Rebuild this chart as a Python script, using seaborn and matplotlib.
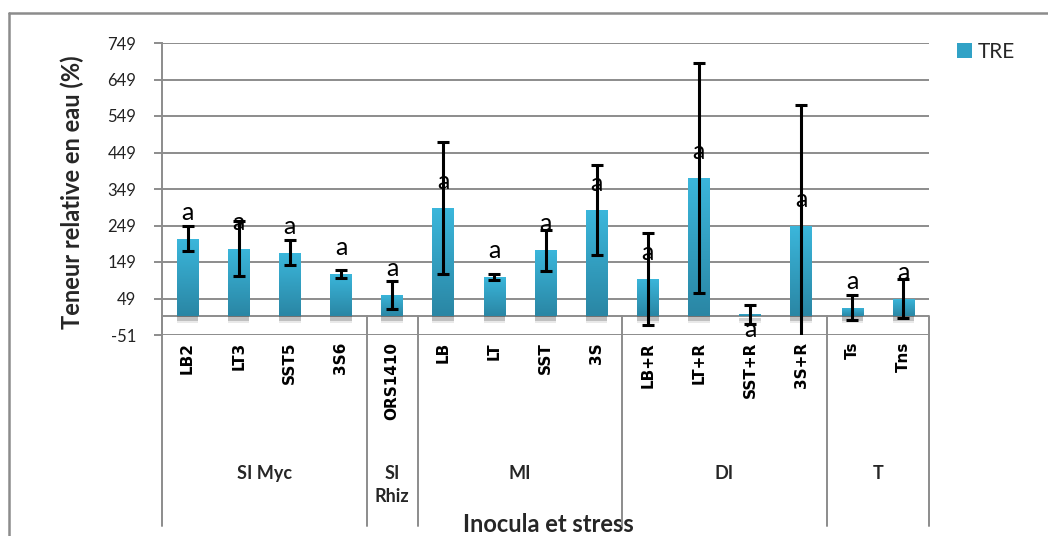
import numpy as np
import matplotlib
matplotlib.use("Agg")
import matplotlib.pyplot as plt
import matplotlib.patheffects as pe
from matplotlib.colors import LinearSegmentedColormap
from matplotlib.lines import Line2D
from matplotlib.patches import Patch
import seaborn as sns

# Relative water content per inoculum / stress treatment
categories = ["LB2", "LT3", "SST5", "3S6", "ORS1410", "LB", "LT", "SST", "3S",
              "LB+R", "LT+R", "SST+R", "3S+R", "Ts", "Tns"]
groups = ["SI Myc", "SI\nRhiz", "MI", "DI", "T"]
group_sizes = [4, 1, 4, 4, 2]
tre = [213, 185, 175, 117, 59, 298, 109, 181, 292, 103, 379, 6, 248, 24, 49]
tre_err = [34, 75, 34, 11, 38, 181, 8, 57, 123, 126, 315, 26, 332, 35, 54]
letters = ["a"] * len(categories)
yticks = [-51, 49, 149, 249, 349, 449, 549, 649, 749]

sns.set_theme(style="white")
plt.rcParams["font.family"] = ["Lato", "DejaVu Sans"]

W, H = 1048, 536
fig = plt.figure(figsize=(W / 100, H / 100), dpi=100)
ax = fig.add_axes([162 / W, 1 - 335 / H, (929 - 162) / W, (335 - 43) / H])

GRID = "#8C8C8C"
bar_top, bar_bottom = "#3BB7DC", "#2A86A4"

sns.barplot(x=categories, y=tre, color=bar_top, saturation=1, width=0.42,
            errorbar=None, ax=ax, zorder=3)

# vertical gradient fill and soft drop shadow for the bars
cmap = LinearSegmentedColormap.from_list("tre_grad", [bar_bottom, bar_top])
grad = np.linspace(0, 1, 256).reshape(-1, 1)
for p in list(ax.patches):
    p.set_edgecolor("none")
    p.set_path_effects([pe.SimplePatchShadow(offset=(0, -3), shadow_rgbFace="#303030", alpha=0.22),
                        pe.SimplePatchShadow(offset=(0, -5), shadow_rgbFace="#303030", alpha=0.1),
                        pe.Normal()])
    x0, y0, w, h = p.get_x(), p.get_y(), p.get_width(), p.get_height()
    im = ax.imshow(grad, extent=[x0, x0 + w, y0, y0 + h], origin="lower",
                   aspect="auto", cmap=cmap, zorder=3.5)
    im.set_clip_path(p)

xs = np.arange(len(categories))
ax.errorbar(xs, tre, yerr=tre_err, fmt="none", ecolor="black", elinewidth=2.2,
            capsize=4.4, capthick=2.2, zorder=5)

# significance letters above each bar (below the axis for near-zero bars)
for x, v, s in zip(xs, tre, letters):
    dy = 19 if v > 10 else -11
    ax.annotate(s, (x, v), xytext=(0, dy), textcoords="offset points",
                ha="center", va="center", fontsize=18, color="black", zorder=6)

ax.set_xlim(-0.5, len(categories) - 0.5)
ax.set_ylim(-51, 749)
ax.set_yticks(yticks)
ax.set_yticklabels([str(t) for t in yticks], fontsize=12, color="#222222")
ax.yaxis.grid(True, color=GRID, lw=1.4)
ax.set_axisbelow(True)
ax.tick_params(axis="y", which="major", left=True, length=5.5, width=1.4, color=GRID, pad=13)

ax.set_xticks(xs)
ax.set_xticklabels(categories, rotation=90, fontsize=11, fontweight="bold",
                   family="DejaVu Sans", color="black")
ax.tick_params(axis="x", length=0, pad=5)

for side in ["top", "right", "bottom"]:
    ax.spines[side].set_visible(False)
ax.spines["left"].set_color(GRID)
ax.spines["left"].set_linewidth(1.4)

# category axis at zero
ax.axhline(0, color=GRID, lw=1.4, zorder=2)

# group separators running down through the label area
trans = ax.get_xaxis_transform()
y_zero = (0 - (-51)) / 800
y_low = (335 - 526) / (335 - 43)
bounds = np.concatenate([[0], np.cumsum(group_sizes)]) - 0.5
for b in bounds:
    ax.plot([b, b], [y_zero, y_low], transform=trans, color=GRID, lw=1.4,
            clip_on=False, zorder=2)

# group names
y_grp = (335 - 465) / (335 - 43)
for g, lo, hi in zip(groups, bounds[:-1], bounds[1:]):
    ax.text((lo + hi) / 2, y_grp, g, transform=trans, ha="center", va="top",
            fontsize=13, fontweight="bold", linespacing=1.45)

ax.set_ylabel("Teneur relative en eau (%)", fontsize=17, fontweight="bold",
              va="center")
ax.yaxis.set_label_coords((72 - 162) / 767, (335 - 192) / 292)
ax.set_xlabel("Inocula et stress", fontsize=17, fontweight="bold", va="center")
ax.xaxis.set_label_coords((548 - 162) / 767, (335 - 525) / 292)

leg = ax.legend(handles=[Patch(facecolor="#31A2C6", edgecolor="none", label="TRE")],
                loc="upper left", bbox_to_anchor=(957 / W, 1 - 42 / H),
                bbox_transform=fig.transFigure, frameon=False, fontsize=15,
                handlelength=0.72, handleheight=0.72, handletextpad=0.3,
                borderpad=0, borderaxespad=0)

# chart area frame (top and left edges)
fig.add_artist(Line2D([9 / W, 1.0], [1 - 13 / H, 1 - 13 / H], transform=fig.transFigure,
                      color=GRID, lw=1.8))
fig.add_artist(Line2D([9 / W, 9 / W], [0, 1 - 13 / H], transform=fig.transFigure,
                      color=GRID, lw=1.8))

fig.savefig("out.png", dpi=100)
